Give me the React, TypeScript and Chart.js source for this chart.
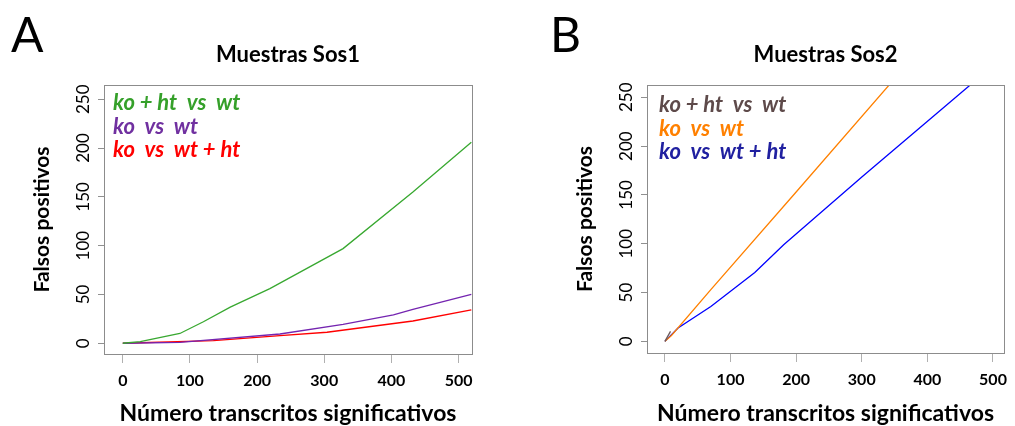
import React, { useEffect, useRef } from "react";
import { Chart, registerables } from "chart.js";

Chart.register(...registerables);

// ---- data ----
const xTickValues = [0, 100, 200, 300, 400, 500];
const yTickValues = [0, 50, 100, 150, 200, 250];

const sos1Labels = ["ko + ht  vs  wt", "ko  vs  wt", "ko  vs  wt + ht"];
const sos1KoHtVsWtX = [0, 26, 85, 120, 160, 219, 328, 432, 519];
const sos1KoHtVsWtY = [0, 1.7, 10, 22, 37, 56, 97, 155, 206];
const sos1KoVsWtX = [0, 85, 234, 328, 403, 432, 519];
const sos1KoVsWtY = [0, 1, 9.5, 19.4, 29, 34.8, 50.2];
const sos1KoVsWtHtX = [0, 135, 234, 304, 432, 519];
const sos1KoVsWtHtY = [0, 2.7, 7.8, 11.3, 22.8, 34.1];

const sos2Labels = ["ko + ht  vs  wt", "ko  vs  wt", "ko  vs  wt + ht"];
const sos2KoHtVsWtX = [0, 8.5];
const sos2KoHtVsWtY = [0, 10.2];
const sos2KoVsWtX = [0, 10, 70, 200, 350];
const sos2KoVsWtY = [0, 6, 53, 153, 269];
const sos2KoVsWtHtX = [0, 20, 70, 137, 181, 301, 480];
const sos2KoVsWtHtY = [0, 13.7, 35.8, 70.6, 98.9, 168.8, 271];

const pts = (xs: number[], ys: number[]) => xs.map((x, i) => ({ x, y: ys[i] }));

const FONT = "Lato, 'Open Sans', sans-serif";

type Geom = {
  canvasLeft: number;
  canvasWidth: number;
  yAxisWidth: number;
  padRight: number;
  padTop: number;
  xAxisHeight: number;
  xMin: number;
  xMax: number;
  yMin: number;
  yMax: number;
  yTitlePad: number;
  letterX: number;
  legendDx: number;
  legendBaseline: number;
};

type Series = { label: string; data: { x: number; y: number }[]; line: string; text: string };

function Panel({ geom, letter, title, series }: { geom: Geom; letter: string; title: string; series: Series[] }) {
  const ref = useRef<HTMLCanvasElement | null>(null);
  useEffect(() => {
    const canvas = ref.current!;
    const overlay = {
      id: "overlay",
      afterDraw(chart: any) {
        const { ctx, chartArea } = chart;
        ctx.save();
        ctx.strokeStyle = "#8c8c8c";
        ctx.lineWidth = 1;
        ctx.strokeRect(
          Math.round(chartArea.left) + 0.5,
          Math.round(chartArea.top) + 0.5,
          Math.round(chartArea.right - chartArea.left),
          Math.round(chartArea.bottom - chartArea.top)
        );
        // panel letter
        ctx.fillStyle = "#000";
        ctx.font = `400 48px ${FONT}`;
        ctx.textAlign = "left";
        ctx.textBaseline = "alphabetic";
        ctx.fillText(letter, geom.letterX, 52);
        // title
        ctx.font = `700 22px ${FONT}`;
        ctx.textAlign = "center";
        ctx.fillText(title, (chartArea.left + chartArea.right) / 2, 62);
        // legend
        ctx.font = `italic 700 22px ${FONT}`;
        ctx.textAlign = "left";
        series.forEach((s, i) => {
          ctx.fillStyle = s.text;
          ctx.fillText(s.label, chartArea.left + geom.legendDx, geom.legendBaseline + i * 23.5);
        });
        ctx.restore();
      },
    };
    const chart = new Chart(canvas, {
      type: "line",
      data: {
        datasets: series.map((s) => ({
          label: s.label,
          data: s.data,
          borderColor: s.line,
          backgroundColor: s.line,
          borderWidth: 1.3,
          pointRadius: 0,
          tension: 0,
          fill: false,
        })),
      },
      options: {
        responsive: false,
        animation: false,
        layout: { padding: { left: 0, right: geom.padRight, top: geom.padTop, bottom: 0 } },
        plugins: { legend: { display: false }, tooltip: { enabled: false }, title: { display: false } },
        scales: {
          x: {
            type: "linear",
            min: geom.xMin,
            max: geom.xMax,
            afterBuildTicks: (s: any) => {
              s.ticks = xTickValues.map((v) => ({ value: v }));
            },
            afterFit: (s: any) => {
              s.height = geom.xAxisHeight;
            },
            grid: { drawOnChartArea: false, drawTicks: true, tickLength: 9, color: "#b0b0b0" },
            border: { display: false },
            ticks: {
              color: "#000",
              padding: 8,
              maxRotation: 0,
              autoSkip: false,
              font: { family: FONT, size: 16, weight: "bold" },
            },
            title: {
              display: true,
              text: "Número transcritos significativos",
              color: "#000",
              font: { family: FONT, size: 23, weight: "bold" },
              padding: { top: 0, bottom: -1 },
            },
          },
          y: {
            type: "linear",
            min: geom.yMin,
            max: geom.yMax,
            afterBuildTicks: (s: any) => {
              s.ticks = yTickValues.map((v) => ({ value: v }));
            },
            afterFit: (s: any) => {
              s.width = geom.yAxisWidth;
            },
            grid: { drawOnChartArea: false, drawTicks: true, tickLength: 6, color: "#909090" },
            border: { display: false },
            ticks: {
              color: "#000",
              padding: 0,
              minRotation: 90,
              maxRotation: 90,
              crossAlign: "center",
              autoSkip: false,
              font: { family: FONT, size: 17 },
            },
            title: {
              display: true,
              text: "Falsos positivos",
              color: "#000",
              font: { family: FONT, size: 21, weight: "bold" },
              padding: { top: geom.yTitlePad, bottom: 0 },
            },
          },
        },
      } as any,
      plugins: [overlay],
    });
    return () => chart.destroy();
  }, []);
  return (
    <canvas
      ref={ref}
      width={geom.canvasWidth}
      height={426}
      style={{ position: "absolute", left: geom.canvasLeft, top: 0, width: geom.canvasWidth, height: 426 }}
    />
  );
}

const geomA: Geom = {
  canvasLeft: 0,
  canvasWidth: 510,
  yAxisWidth: 104,
  padRight: 38,
  padTop: 85,
  xAxisHeight: 72,
  xMin: -28,
  xMax: 520,
  yMin: -11,
  yMax: 264.6,
  yTitlePad: 30,
  letterX: 11,
  legendDx: 9,
  legendBaseline: 110,
};

const geomB: Geom = {
  canvasLeft: 510,
  canvasWidth: 505,
  yAxisWidth: 137,
  padRight: 3,
  padTop: 85,
  xAxisHeight: 73,
  xMin: -27.3,
  xMax: 517,
  yMin: -11.9,
  yMax: 262.6,
  yTitlePad: 63,
  letterX: 40,
  legendDx: 12,
  legendBaseline: 112,
};

export default function App() {
  const seriesA: Series[] = [
    { label: sos1Labels[0], data: pts(sos1KoHtVsWtX, sos1KoHtVsWtY), line: "#38a830", text: "#35a02a" },
    { label: sos1Labels[1], data: pts(sos1KoVsWtX, sos1KoVsWtY), line: "#7424b0", text: "#7030a0" },
    { label: sos1Labels[2], data: pts(sos1KoVsWtHtX, sos1KoVsWtHtY), line: "#ff0000", text: "#ff0000" },
  ];
  const seriesB: Series[] = [
    { label: sos2Labels[0], data: pts(sos2KoHtVsWtX, sos2KoHtVsWtY), line: "#6b5a5a", text: "#5e4a4a" },
    { label: sos2Labels[1], data: pts(sos2KoVsWtX, sos2KoVsWtY), line: "#ff8000", text: "#ff8000" },
    { label: sos2Labels[2], data: pts(sos2KoVsWtHtX, sos2KoVsWtHtY), line: "#0000ff", text: "#2020a0" },
  ];
  return (
    <div style={{ position: "absolute", left: 0, top: 0, width: 1015, height: 426, background: "#fff" }}>
      <Panel geom={geomA} letter="A" title="Muestras Sos1" series={seriesA} />
      <Panel geom={geomB} letter="B" title="Muestras Sos2" series={seriesB} />
    </div>
  );
}
